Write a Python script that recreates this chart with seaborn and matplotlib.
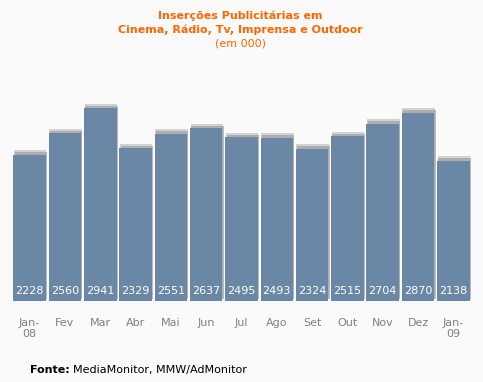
import matplotlib
matplotlib.use("Agg")
import matplotlib.pyplot as plt
import matplotlib.patheffects as pe
import matplotlib.transforms as mtransforms
import seaborn as sns
import pandas as pd

months = ["Jan-\n08", "Fev", "Mar", "Abr", "Mai", "Jun", "Jul", "Ago", "Set", "Out", "Nov", "Dez", "Jan-\n09"]
values = [2228, 2560, 2941, 2329, 2551, 2637, 2495, 2493, 2324, 2515, 2704, 2870, 2138]

title_lines = ["Inserções Publicitárias em", "Cinema, Rádio, Tv, Imprensa e Outdoor"]
subtitle = "(em 000)"
source_bold = "Fonte:"
source_text = "MediaMonitor, MMW/AdMonitor"

sns.set_style("white")
plt.rcParams['font.family'] = ['DejaVu Sans']

bg = "#fafafa"
fig = plt.figure(figsize=(4.83, 3.82), dpi=100, facecolor=bg)
ax = fig.add_axes([12/483, (382-301)/382, (471-12)/483, (301-80)/382])
ax.set_facecolor(bg)

df = pd.DataFrame({"month": months, "value": values})
sns.barplot(data=df, x="month", y="value", color="#6a87a5", saturation=1, width=0.92, ax=ax)

for p in ax.patches:
    p.set_linewidth(0)
    p.set_path_effects([
        pe.SimplePatchShadow(offset=(0.4, 3.2), shadow_rgbFace="#c8c8c8", alpha=0.8),
        pe.SimplePatchShadow(offset=(0.9, 1.8), shadow_rgbFace="#a0a0a0", alpha=0.7),
        pe.Normal()])

offset = mtransforms.offset_copy(ax.transData, fig=fig, x=0, y=5, units="dots")
for i, v in enumerate(values):
    ax.text(i, 0, str(v), color="white", fontsize=8, ha="center", va="bottom", transform=offset)

ax.set_xlim(-0.5, len(values) - 0.5)
ax.set_ylim(0, 3370)
ax.set_yticks([])
ax.set_xlabel("")
ax.set_ylabel("")
ax.tick_params(axis="x", length=0, pad=12, labelsize=8, labelcolor="#808080")
for s in ax.spines.values():
    s.set_visible(False)

fig.text(0.497, 1 - 16/382, title_lines[0], color="#ff6600", fontsize=8, fontweight="bold", ha="center", va="center")
fig.text(0.497, 1 - 30/382, title_lines[1], color="#ff6600", fontsize=8, fontweight="bold", ha="center", va="center")
fig.text(0.497, 1 - 43/382, subtitle, color="#ff6600", fontsize=8, ha="center", va="center")

fig.text(30/483, 1 - 370/382, source_bold, color="black", fontsize=8, fontweight="bold", ha="left", va="center")
fig.text(73/483, 1 - 370/382, source_text, color="black", fontsize=8, ha="left", va="center")

fig.savefig("out.png", dpi=100, facecolor=bg)
